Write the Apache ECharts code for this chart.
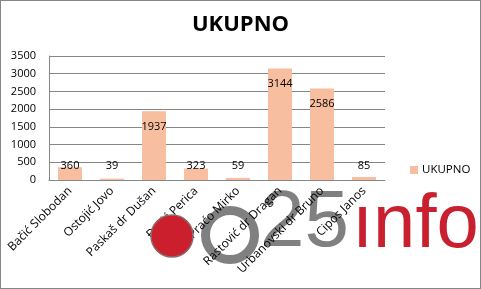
<!DOCTYPE html>
<html><head><meta charset="utf-8">
<script src="https://cdn.jsdelivr.net/npm/echarts@6/dist/echarts.min.js"></script>
<style>
html,body{margin:0;padding:0;background:#fff;}
#c{width:481px;height:289px;box-sizing:border-box;border:1px solid #868686;}
</style></head><body>
<div id="c"></div>
<script>
const categories = ['Bačić Slobodan','Ostojić Jovo','Paskaš dr Dušan','Đurić Perica','Praćo Mirko','Rastović dr Dragan','Urbanovski dr Bruno','Cipos Janos'];
const values = [360, 39, 1937, 323, 59, 3144, 2586, 85];
const seriesName = 'UKUPNO';
const yTicks = {min: 0, max: 3500, interval: 500};

const font = "'Open Sans', 'Liberation Sans', sans-serif";
const chart = echarts.init(document.getElementById('c'));
const option = {
  animation: false,
  title: {text: 'UKUPNO', left: 'center', top: 8, textStyle: {fontFamily: font, fontWeight: 'bold', fontSize: 22, color: '#000'}},
  grid: {left: 48, right: 95, top: 55, bottom: 108},
  legend: {left: 404, top: 158, itemWidth: 8, itemHeight: 8, icon: 'rect', itemGap: 6,
    textStyle: {fontFamily: font, fontSize: 11.5, color: '#000', padding: [0,0,0,-1]}},
  xAxis: {type: 'category', data: categories,
    axisLine: {lineStyle: {color: '#868686'}}, axisTick: {show: false},
    axisLabel: {rotate: 45, interval: 0, margin: 9, fontFamily: font, fontSize: 12, color: '#000'}},
  yAxis: {type: 'value', min: yTicks.min, max: yTicks.max, interval: yTicks.interval,
    axisLine: {show: true, lineStyle: {color: '#868686'}}, axisTick: {show: false},
    splitLine: {lineStyle: {color: '#868686'}},
    axisLabel: {margin: 13, fontFamily: font, fontSize: 11, color: '#000', formatter: v => String(v)}},
  series: [{name: seriesName, type: 'bar', barWidth: '57%', data: values,
    itemStyle: {color: '#F7BE9F'},
    label: {show: true, position: 'insideTop', distance: 9, fontFamily: font, fontSize: 11, color: '#000'}}],
  graphic: [
    {type: 'circle', shape: {cx: 229, cy: 234, r: 24.5}, style: {fill: 'none', stroke: '#808080', lineWidth: 9}, z: 0, silent: true},
    {type: 'text', style: {x: 259, y: 263, text: '25', font: '80px "Liberation Sans", Arial, sans-serif', fill: '#808080', textVerticalAlign: 'bottom'}, z: 0},
    {type: 'text', style: {x: 351, y: 263, text: 'ınfo', font: '76px "Liberation Sans", Arial, sans-serif', fill: '#C8202F', textVerticalAlign: 'bottom'}, z: 0},
    {type: 'circle', shape: {cx: 171, cy: 235, r: 21}, style: {fill: '#CC1F2E', stroke: '#8a6a6a', lineWidth: 1.5}, z: 200}
  ]
};
chart.setOption(option);
// place value labels: center ~15px below bar top, but not lower than 14px above axis
const zeroY = chart.convertToPixel({yAxisIndex: 0}, 0);
const items = values.map(v => {
  const h = zeroY - chart.convertToPixel({yAxisIndex: 0}, v);
  const y = Math.min(15, h - 14);
  return {value: v, label: {position: ['50%', y], align: 'center', verticalAlign: 'middle'}};
});
chart.setOption({series: [{data: items}]});
</script>
</body></html>
